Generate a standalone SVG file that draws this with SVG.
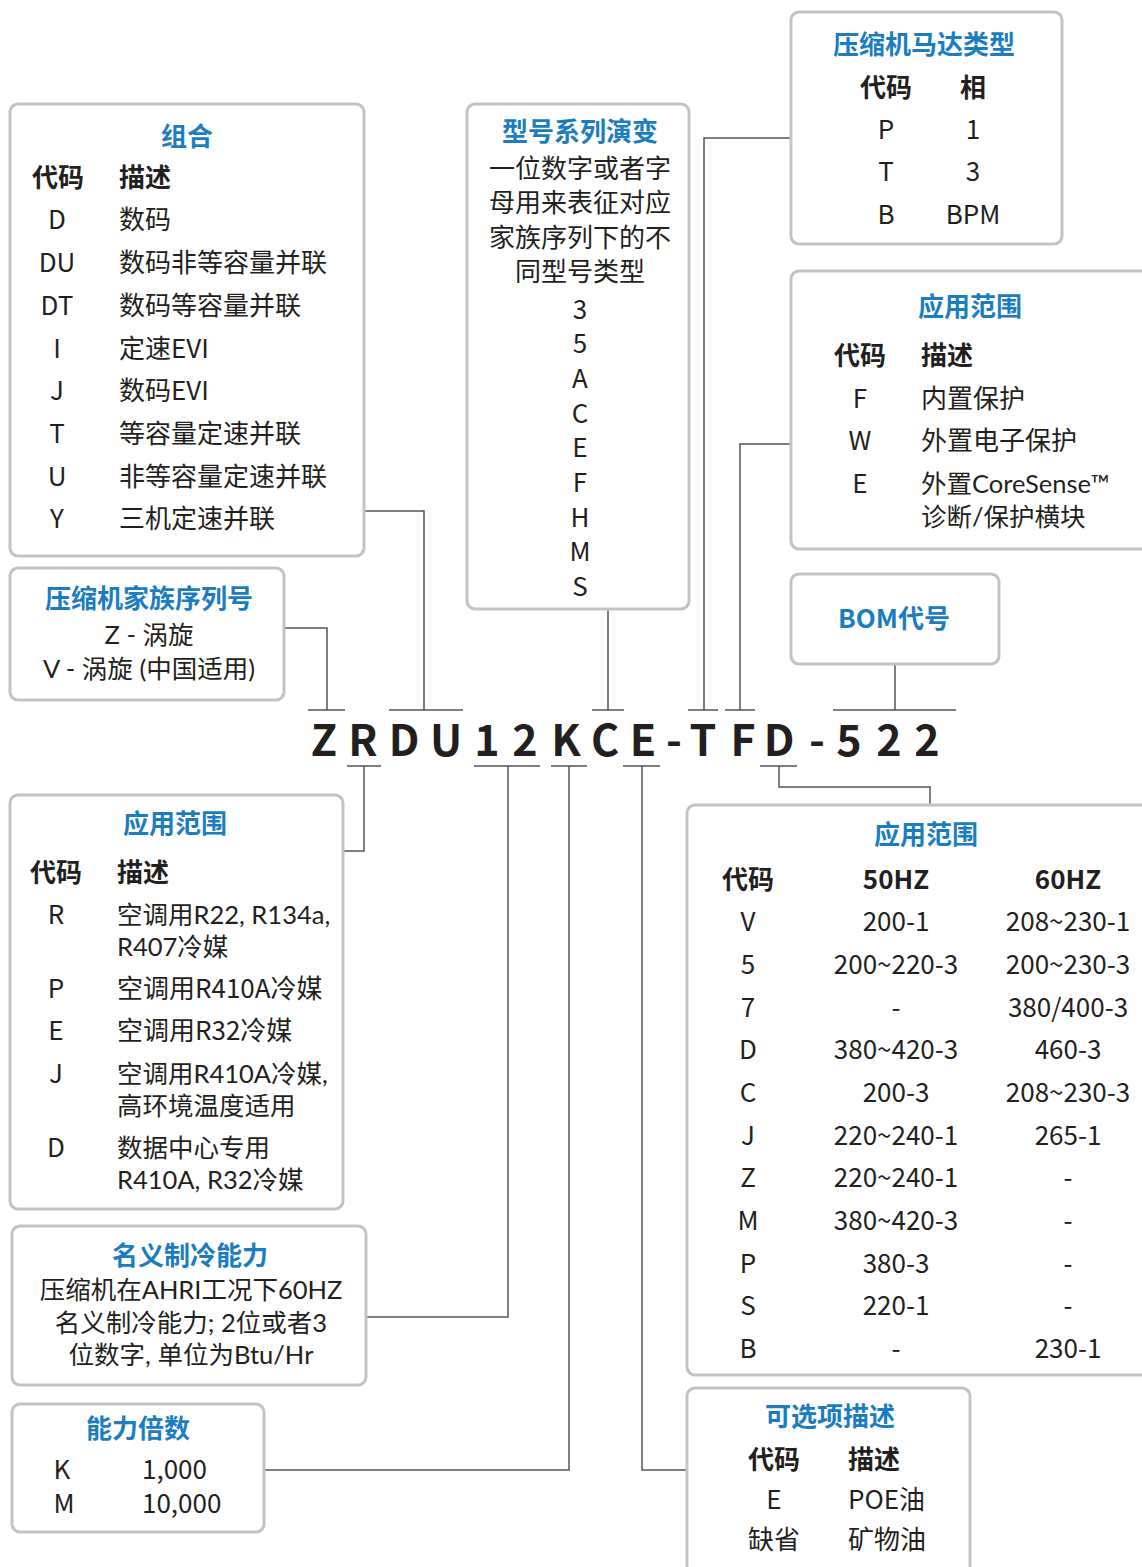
<svg xmlns="http://www.w3.org/2000/svg" width="1142" height="1567" viewBox="0 0 1142 1567">
<style>
text{font-family:"Noto Sans CJK SC","Noto Sans",sans-serif;font-size:26px;fill:#231f20}
.w{font-family:"Lato","Noto Sans CJK SC",sans-serif;font-size:25.5px}
.t{fill:#1a7dc2;font-weight:bold;text-anchor:middle}
.h{font-weight:bold}
.m{text-anchor:middle}
.box{fill:#fff;stroke:#c3c3c5;stroke-width:3}
.ln{fill:none;stroke:#555;stroke-width:1.5}
.code{font-size:43px;font-weight:bold;text-anchor:middle}
</style>
<rect width="1142" height="1567" fill="#fff"/>
<g id="connectors">
<path class="ln" d="M284,628H327V710M308,710H345"/>
<path class="ln" d="M364,511H424V710M389,710H463"/>
<path class="ln" d="M608,609V710M592,710H624"/>
<path class="ln" d="M791,138H704V710M688,710H718"/>
<path class="ln" d="M791,444H740V710M725,710H755"/>
<path class="ln" d="M895,664V710M833,710H956"/>
<path class="ln" d="M347,766H381M364,766V851H343"/>
<path class="ln" d="M474,766H540M508,766V1317H366"/>
<path class="ln" d="M551,766H587M569,766V1470H264"/>
<path class="ln" d="M623,766H660M642,766V1470H687"/>
<path class="ln" d="M760,766H797M779,766V787H930V805"/>
</g>
<g id="model-code">
<text class="code" x="324" y="756">Z</text>
<text class="code" x="363" y="756">R</text>
<text class="code" x="404" y="756">D</text>
<text class="code" x="446" y="756">U</text>
<text class="code" x="487" y="756">1</text>
<text class="code" x="525" y="756">2</text>
<text class="code" x="566" y="756">K</text>
<text class="code" x="605" y="756">C</text>
<text class="code" x="643" y="756">E</text>
<text class="code" x="674" y="756">-</text>
<text class="code" x="703" y="756">T</text>
<text class="code" x="743" y="756">F</text>
<text class="code" x="779" y="756">D</text>
<text class="code" x="817" y="756">-</text>
<text class="code" x="849" y="756">5</text>
<text class="code" x="889" y="756">2</text>
<text class="code" x="927" y="756">2</text>
</g>
<g id="zuhe">
<rect class="box" x="10" y="104" width="354" height="452" rx="8"/>
<text class="t" x="187" y="146">组合</text>
<text class="h m" x="58" y="187">代码</text><text class="h" x="119" y="187">描述</text>
<text class="m" x="57" y="229">D</text><text x="119" y="229">数码</text>
<text class="m" x="57" y="272">DU</text><text x="119" y="272">数码非等容量并联</text>
<text class="m" x="57" y="315">DT</text><text x="119" y="315">数码等容量并联</text>
<text class="m" x="57" y="358">I</text><text x="119" y="358">定速EVI</text>
<text class="m" x="57" y="400">J</text><text x="119" y="400">数码EVI</text>
<text class="m" x="57" y="443">T</text><text x="119" y="443">等容量定速并联</text>
<text class="m" x="57" y="486">U</text><text x="119" y="486">非等容量定速并联</text>
<text class="m" x="57" y="528">Y</text><text x="119" y="528">三机定速并联</text>
</g>
<g id="xilie">
<rect class="box" x="467" y="104" width="222" height="505" rx="8"/>
<text class="t" x="580" y="141">型号系列演变</text>
<text class="m" x="580" y="178">一位数字或者字</text>
<text class="m" x="580" y="212">母用来表征对应</text>
<text class="m" x="580" y="247">家族序列下的不</text>
<text class="m" x="580" y="281">同型号类型</text>
<text class="m" x="580" y="319">3</text>
<text class="m" x="580" y="353">5</text>
<text class="m" x="580" y="388">A</text>
<text class="m" x="580" y="423">C</text>
<text class="m" x="580" y="457">E</text>
<text class="m" x="580" y="492">F</text>
<text class="m" x="580" y="527">H</text>
<text class="m" x="580" y="561">M</text>
<text class="m" x="580" y="596">S</text>
</g>
<g id="motor">
<rect class="box" x="791" y="12" width="271" height="232" rx="8"/>
<text class="t" x="924" y="54">压缩机马达类型</text>
<text class="h m" x="886" y="97">代码</text><text class="h m" x="973" y="97">相</text>
<text class="m" x="886" y="139">P</text><text class="m" x="973" y="139">1</text>
<text class="m" x="886" y="181">T</text><text class="m" x="973" y="181">3</text>
<text class="m" x="886" y="224">B</text><text class="m" x="973" y="224">BPM</text>
</g>
<g id="protect">
<rect class="box" x="791" y="271" width="365" height="278" rx="8"/>
<text class="t" x="970" y="316">应用范围</text>
<text class="h m" x="860" y="365">代码</text><text class="h" x="921" y="365">描述</text>
<text class="m" x="860" y="408">F</text><text x="921" y="408">内置保护</text>
<text class="m" x="860" y="450">W</text><text x="921" y="450">外置电子保护</text>
<text class="m" x="860" y="493">E</text><text class="w" x="921" y="493">外置CoreSense™<tspan x="921" dy="33">诊断/保护横块</tspan></text>
</g>
<g id="family">
<rect class="box" x="10" y="568" width="274" height="132" rx="8"/>
<text class="t" x="149" y="608">压缩机家族序列号</text>
<text class="m w" x="149" y="644">Z - 涡旋<tspan x="149" dy="34">V - 涡旋 (中国适用)</tspan></text>
</g>
<g id="bom">
<rect class="box" x="791" y="574" width="208" height="90" rx="8"/>
<text class="t" x="894" y="628">BOM代号</text>
</g>
<g id="refrigerant">
<rect class="box" x="10" y="795" width="333" height="414" rx="8"/>
<text class="t" x="175" y="833">应用范围</text>
<text class="h m" x="56" y="882">代码</text><text class="h" x="117" y="882">描述</text>
<text class="m" x="56" y="924">R</text><text class="w" x="117" y="924">空调用R22, R134a,<tspan x="117" dy="32">R407冷媒</tspan></text>
<text class="m" x="56" y="998">P</text><text x="117" y="998">空调用R410A冷媒</text>
<text class="m" x="56" y="1040">E</text><text x="117" y="1040">空调用R32冷媒</text>
<text class="m" x="56" y="1083">J</text><text class="w" x="117" y="1083">空调用R410A冷媒,<tspan x="117" dy="32">高环境温度适用</tspan></text>
<text class="m" x="56" y="1157">D</text><text class="w" x="117" y="1157">数据中心专用<tspan x="117" dy="32">R410A, R32冷媒</tspan></text>
</g>
<g id="capacity">
<rect class="box" x="12" y="1226" width="354" height="159" rx="8"/>
<text class="t" x="190" y="1265">名义制冷能力</text>
<text class="m w" x="191" y="1299">压缩机在AHRI工况下60HZ<tspan x="191" dy="33">名义制冷能力; 2位或者3</tspan><tspan x="191" dy="32">位数字, 单位为Btu/Hr</tspan></text>
</g>
<g id="multiplier">
<rect class="box" x="12" y="1404" width="252" height="128" rx="8"/>
<text class="t" x="138" y="1438">能力倍数</text>
<text class="m" x="62" y="1479">K</text><text x="142" y="1479">1,000</text>
<text class="m" x="64" y="1513">M</text><text x="142" y="1513">10,000</text>
</g>
<g id="voltage">
<rect class="box" x="687" y="805" width="470" height="570" rx="8"/>
<text class="t" x="926" y="844">应用范围</text>
<text class="h m" x="748" y="889">代码</text><text class="h m" x="896" y="889">50HZ</text><text class="h m" x="1068" y="889">60HZ</text>
<text class="m" x="748" y="931">V</text><text class="m" x="896" y="931">200-1</text><text class="m" x="1068" y="931">208~230-1</text>
<text class="m" x="748" y="974">5</text><text class="m" x="896" y="974">200~220-3</text><text class="m" x="1068" y="974">200~230-3</text>
<text class="m" x="748" y="1017">7</text><text class="m" x="896" y="1017">-</text><text class="m" x="1068" y="1017">380/400-3</text>
<text class="m" x="748" y="1059">D</text><text class="m" x="896" y="1059">380~420-3</text><text class="m" x="1068" y="1059">460-3</text>
<text class="m" x="748" y="1102">C</text><text class="m" x="896" y="1102">200-3</text><text class="m" x="1068" y="1102">208~230-3</text>
<text class="m" x="748" y="1145">J</text><text class="m" x="896" y="1145">220~240-1</text><text class="m" x="1068" y="1145">265-1</text>
<text class="m" x="748" y="1187">Z</text><text class="m" x="896" y="1187">220~240-1</text><text class="m" x="1068" y="1187">-</text>
<text class="m" x="748" y="1230">M</text><text class="m" x="896" y="1230">380~420-3</text><text class="m" x="1068" y="1230">-</text>
<text class="m" x="748" y="1273">P</text><text class="m" x="896" y="1273">380-3</text><text class="m" x="1068" y="1273">-</text>
<text class="m" x="748" y="1315">S</text><text class="m" x="896" y="1315">220-1</text><text class="m" x="1068" y="1315">-</text>
<text class="m" x="748" y="1358">B</text><text class="m" x="896" y="1358">-</text><text class="m" x="1068" y="1358">230-1</text>
</g>
<g id="options">
<rect class="box" x="687" y="1388" width="283" height="195" rx="8"/>
<text class="t" x="830" y="1426">可选项描述</text>
<text class="h m" x="774" y="1469">代码</text><text class="h" x="848" y="1469">描述</text>
<text class="m" x="774" y="1509">E</text><text x="848" y="1509">POE油</text>
<text class="m" x="774" y="1549">缺省</text><text x="848" y="1549">矿物油</text>
</g>
</svg>
